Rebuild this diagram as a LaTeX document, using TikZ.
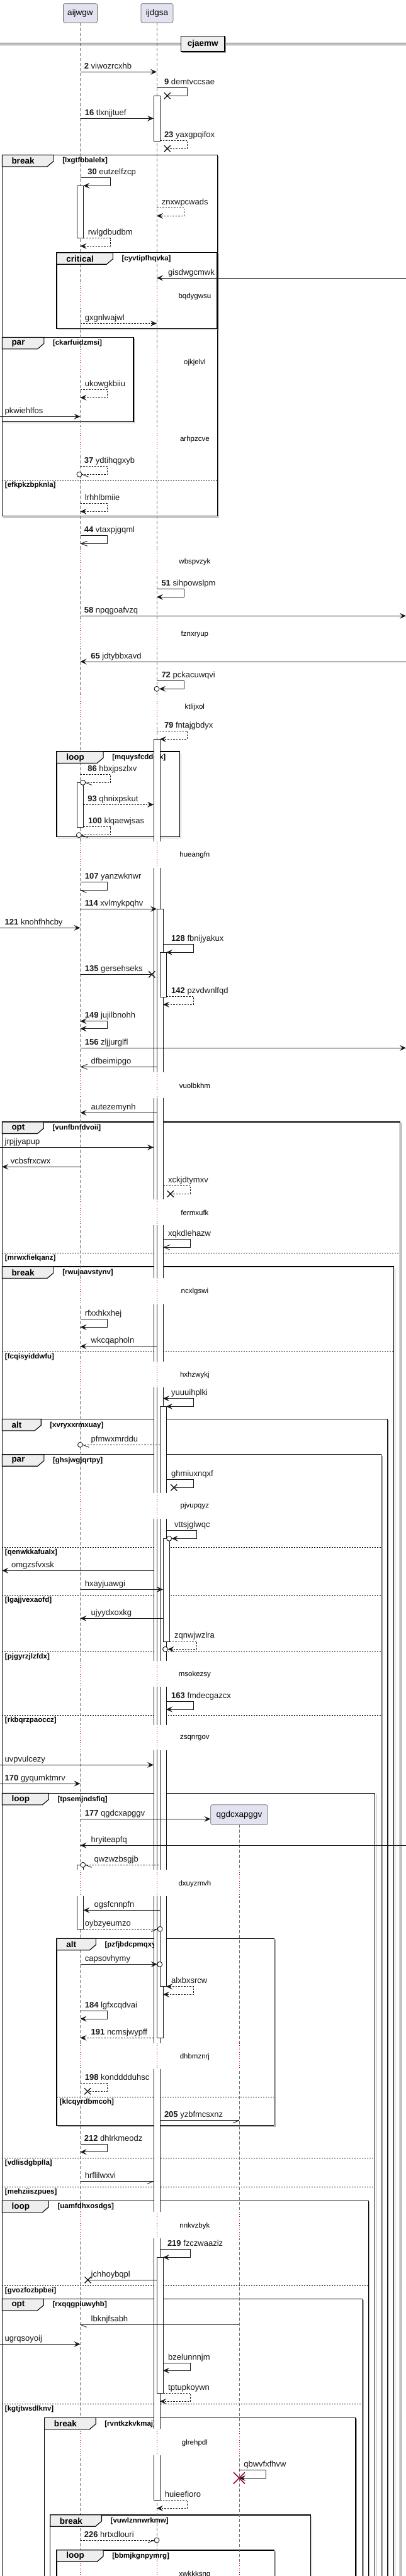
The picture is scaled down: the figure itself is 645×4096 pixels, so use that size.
\documentclass[tikz,border=0pt]{standalone}
\usepackage{fontspec}
\setmainfont{Liberation Sans}
\usetikzlibrary{arrows.meta}
\definecolor{crim}{HTML}{A80036}
\definecolor{ink}{HTML}{181818}
\definecolor{tabfill}{HTML}{EEEEEE}
\definecolor{partfill}{HTML}{E2E2F0}
\tikzset{
 fhead/.tip={Stealth[length=10pt,width=9pt,inset=4pt]},
 ohead/.tip={Straight Barb[length=10pt,width=8pt]},
 msg/.style={draw=ink,line width=0.9pt},
 dsh/.style={dash pattern=on 2.5pt off 2pt},
 life/.style={draw=black!55,line width=0.7pt,dash pattern=on 5pt off 3pt},
 delayline/.style={draw=crim,line width=0.9pt,dash pattern=on 1pt off 2.5pt},
 frameline/.style={draw=black,line width=1.5pt},
 frameshadow/.style={draw=black!35,line width=1pt},
 elseline/.style={draw=black,line width=0.8pt,dash pattern=on 2pt off 2pt},
 act/.style={draw=ink,line width=0.8pt},
 mtxt/.style={anchor=base west,inner sep=0pt,font=\fontsize{13}{15}\selectfont,text=ink},
 dtxt/.style={inner sep=0pt,font=\fontsize{11.5}{13}\selectfont},
 gl/.style={anchor=west,inner sep=0pt,font=\bfseries\fontsize{11.5}{13}\selectfont},
 gk/.style={anchor=west,inner sep=0pt,font=\bfseries\fontsize{13.5}{15}\selectfont},
 part/.style={draw=black!60,fill=partfill,rounded corners=2.5pt,line width=0.7pt,inner sep=0pt,font=\fontsize{13.5}{16}\selectfont},
}
\newcounter{lb}
\newcommand\lbl[3]{\stepcounter{lb}\node[mtxt] (lb\thelb) at (#1,#2-5) {#3};}
\newcommand\selfmsg[6][]{\draw[msg,#1] (#2,#3) -- (#4,#3) -- (#4,#5) -- (#6,#5);}
\newcommand\ecirc[2]{\draw[ink,line width=0.9pt,fill=white] (#1,#2) circle (4pt);}
\newcommand\xmk[2]{\draw[ink,line width=1.4pt] (#1-5,#2-5) -- (#1+5,#2+5) (#1-5,#2+5) -- (#1+5,#2-5);}
\newcommand\hbL[2]{\draw[msg] (#1,#2) -- (#1+10,#2+4);}
\newcommand\hbR[2]{\draw[msg] (#1,#2) -- (#1-10,#2+4);}
\newcommand\actC[4]{\draw[act,fill=white] (#1,#3) rectangle (#2,#4);}
\newcommand\actO[4]{\fill[white] (#1,#3) rectangle (#2,#4); \draw[act] (#1,#3) -- (#1,#4) (#2,#3) -- (#2,#4);}
\newcommand\actT[4]{\fill[white] (#1,#3) rectangle (#2,#4); \draw[act] (#1,#4) -- (#1,#3) -- (#2,#3) -- (#2,#4);}
\newcommand\actB[4]{\fill[white] (#1,#3) rectangle (#2,#4); \draw[act] (#1,#3) -- (#1,#4) -- (#2,#4) -- (#2,#3);}
\newcommand\frm[4]{\draw[frameshadow] (#3+1.8,#2+2) -- (#3+1.8,#4+1.8) -- (#1+2,#4+1.8); \draw[frameline] (#1,#2) rectangle (#3,#4);}
\newcommand\grptab[5]{\draw[draw=black,line width=1.1pt,fill=tabfill] (#1,#2) -- (#1+#3,#2) -- (#1+#3,#2+10) -- (#1+#3-10,#2+18.5) -- (#1,#2+18.5) -- cycle;
 \node[gk] at (#1+15,#2+9.5) {#4}; \node[gl] at (#1+#3+14,#2+9.7) {#5};}
\newcommand\els[4]{\draw[elseline] (#1,#3) -- (#2,#3); \node[gl] at (#1+4.5,#3+8) {#4};}
\newcommand\dly[2]{\foreach \lx in {#1}{\draw[white,line width=2.5pt] (\lx,#2-21) -- (\lx,#2+21); \draw[delayline] (\lx,#2-21) -- (\lx,#2+21);}}
\newcommand\dtext[2]{\node[dtxt] at (309.4,#1) {#2};}

\begin{document}
\begin{tikzpicture}[x=1pt,y=-1pt]
\useasboundingbox (0,0) rectangle (645,4096);
\clip (0,0) rectangle (645,4096);
% ---------- frames ----------
\frm{3.3}{246.3}{345.6}{820.7}
\frm{90.1}{401.7}{345.1}{522.3}
\frm{3.3}{536.3}{211.8}{670.3}
\frm{90.1}{1195}{285.3}{1330.3}
\frm{3.3}{1784}{635.5}{4120}
\frm{3.3}{2014}{625.5}{4120}
\frm{3.3}{2256.3}{615.5}{4120}
\frm{3.3}{2312.7}{605.6}{4120}
\frm{3.3}{2851.3}{595.6}{4120}
\frm{90.1}{3082.3}{435.7}{3379.7}
\frm{3.3}{3499.3}{585.6}{4120}
\frm{3.3}{3655.3}{575.6}{4120}
\frm{70.6}{3844.3}{564.8}{4120}
\frm{79.7}{3998.7}{493.4}{4120}
\frm{90.1}{4054.7}{435.7}{4120}
\els{3.3}{345.6}{763.3}{[efkpkzbpknla]}
\els{3.3}{635.5}{1992.3}{[mrwxfielqanz]}
\els{3.3}{625.5}{2149.3}{[fcqisyiddwfu]}
\els{3.3}{605.6}{2460.3}{[qenwkkafualx]}
\els{3.3}{605.6}{2536.3}{[lgajjvexaofd]}
\els{3.3}{605.6}{2626.3}{[pjgyrzjlzfdx]}
\els{3.3}{605.6}{2727.3}{[rkbqrzpaoccz]}
\els{90.1}{435.7}{3334.3}{[klcqyrdbmcoh]}
\els{3.3}{595.6}{3431.7}{[vdlisdgbplla]}
\els{3.3}{595.6}{3477.3}{[mehziiszpues]}
\els{3.3}{585.6}{3634.3}{[gvozfozbpbei]}
\els{3.3}{575.6}{3822.7}{[kgtjtwsdlknv]}
% ---------- participants and lifelines ----------
\node[part,minimum width=54pt,minimum height=30.3pt] (pA) at (127.5,20.85) {aijwgw};
\node[part,minimum width=51pt,minimum height=30.3pt] (pB) at (249.4,20.85) {ijdgsa};
\coordinate (endA) at (127.5,4100);
\coordinate (endB) at (249,4100);
\coordinate (endC) at (380,4100);
\draw[life] (pA.south) -- (endA);
\draw[life] (249,36) -- (endB);
\draw[life] (380,2901.3) -- (endC);
\dly{127.5,249}{472}
\dly{127.5,249}{576.3}
\dly{127.5,249}{699}
\dly{127.5,249}{894}
\dly{127.5,249}{1009}
\dly{127.5,249}{1125}
\dly{127.5,249}{1358.7}
\dly{127.5,249}{1725.4}
\dly{127.5,249}{1927.5}
\dly{127.5,249}{2053.2}
\dly{127.5,249}{2185.5}
\dly{127.5,249}{2394.2}
\dly{127.5,249}{2661.5}
\dly{127.5,249}{2763}
\dly{127.5,249,380}{2994.3}
\dly{127.5,249,380}{3269.5}
\dly{127.5,249,380}{3538.3}
\dly{127.5,249,380}{3883.2}
\dly{127.5,249,380}{4093.3}
% ---------- group tabs ----------
\grptab{3.3}{246.3}{81.8}{break}{[lxgtfbbalelx]}
\grptab{90.1}{401.7}{89.3}{critical}{[cyvtipfhqvka]}
\grptab{3.3}{536.3}{66.5}{par}{[ckarfuidzmsi]}
\grptab{90.1}{1195}{74}{loop}{[mquysfcddelk]}
\grptab{3.3}{1784}{66.1}{opt}{[vunfbnfdvoii]}
\grptab{3.3}{2014}{81.8}{break}{[rwujaavstynv]}
\grptab{3.3}{2256.3}{61.9}{alt}{[xvryxxrmxuay]}
\grptab{3.3}{2312.7}{66.5}{par}{[ghsjwgjqrtpy]}
\grptab{3.3}{2851.3}{74}{loop}{[tpsemjndsfiq]}
\grptab{90.1}{3082.3}{62.3}{alt}{[pzfjbdcpmqxy]}
\grptab{3.3}{3499.3}{74}{loop}{[uamfdhxosdgs]}
\grptab{3.3}{3655.3}{66.1}{opt}{[rxqqgpiuwyhb]}
\grptab{70.6}{3844.3}{81.6}{break}{[rvntkzkvkmaj]}
\grptab{79.7}{3998.7}{81.8}{break}{[vuwlznnwrkmw]}
\grptab{90.1}{4054.7}{74}{loop}{[bbmjkgnpymrg]}
% ---------- divider ----------
\draw[ink,line width=0.9pt] (0,68.6) -- (645,68.6) (0,71.6) -- (645,71.6);
\fill[black!35] (289.4,59.3) rectangle (359.2,84);
\node[draw=black,line width=1.5pt,fill=tabfill,minimum width=69.8pt,minimum height=24.7pt,inner sep=0pt,font=\bfseries\fontsize{13.5}{15}\selectfont] (div) at (322.3,69.65) {cjaemw};
% ---------- activations ----------
\actC{244}{254}{152.3}{224.3}
\actC{122.5}{132.5}{295.3}{378.7}
\actC{122.5}{132.5}{1244.3}{1315.3}
\actT{244}{254}{1175.3}{1337.7}
\actO{244}{254}{1379.7}{1704.7}
\actO{244}{254}{1746}{1906.7}
\actO{244}{254}{1948.3}{2032.3}
\actO{244}{254}{2074}{2164.7}
\actO{244}{254}{2206.3}{2373.7}
\actO{244}{254}{2414.7}{2640.7}
\actO{244}{254}{2682.3}{2742.7}
\actO{244}{254}{2783.3}{2973.3}
\actO{244}{254}{3015.3}{3248.7}
\actO{244}{254}{3290.3}{3517.3}
\actO{244}{254}{3559.3}{3862}
\actB{244}{254}{3904.3}{3975.3}
\actT{249}{259}{1445.3}{1704.7}
\actO{249}{259}{1746}{1906.7}
\actO{249}{259}{1948.3}{2032.3}
\actO{249}{259}{2074}{2164.7}
\actO{249}{259}{2206.3}{2373.7}
\actO{249}{259}{2414.7}{2640.7}
\actO{249}{259}{2682.3}{2742.7}
\actO{249}{259}{2783.3}{2973.3}
\actB{249}{259}{3015.3}{3240.3}
\actC{249}{259}{3589.3}{3805.3}
\actC{254}{264}{1514.7}{1585.3}
\actT{254}{264}{2236.3}{2373.7}
\actO{254}{264}{2414.7}{2640.7}
\actO{254}{264}{2682.3}{2742.7}
\actO{254}{264}{2783.3}{2973.3}
\actB{254}{264}{3015.3}{3158.7}
\actC{259}{269}{2446.3}{2610.3}
\actT{122.5}{132.5}{2965.3}{2973.3}
\actB{122.5}{132.5}{3015.3}{3067.3}
% ---------- messages ----------
\draw[msg,-{fhead}] (127.5,114.3) -- (249,114.3); \lbl{133.7}{114.3}{\textbf{2} viwozrcxhb}
\selfmsg{249}{139.3}{297.4}{152.3}{268}; \xmk{265.8}{152.3} \lbl{260.8}{139.3}{\textbf{9} demtvccsae}
\draw[msg,-{fhead}] (127.5,188.3) -- (244,188.3); \lbl{134.6}{188.3}{\textbf{16} tlxnjjtuef}
\selfmsg[dsh]{254}{223.3}{297.4}{236.3}{268}; \xmk{265.8}{236.3} \lbl{260.8}{223.3}{\textbf{23} yaxgpqifox}
\selfmsg[-{fhead}]{127.5}{282.3}{175.3}{295.3}{132.5}; \lbl{139.1}{282.3}{\textbf{30} eutzelfzcp}
\selfmsg[dsh,-{fhead}]{249}{330.3}{292.4}{343.3}{249}; \lbl{256.7}{330.3}{znxwpcwads}
\selfmsg[dsh,-{fhead}]{132.5}{378.7}{175.3}{391.3}{127.5}; \lbl{139.6}{378.7}{rwlgdbudbm}
\draw[msg,-{fhead}] (645,442) -- (249,442); \lbl{267}{442}{gisdwgcmwk}
\draw[msg,dsh,-{fhead}] (127.5,514.3) -- (249,514.3); \lbl{134.6}{514.3}{gxgnlwajwl}
\selfmsg[dsh,-{fhead}]{127.5}{619.3}{170.3}{632.3}{127.5}; \lbl{134.6}{619.3}{ukowgkbiiu}
\draw[msg,-{fhead}] (0,662.3) -- (127.5,662.3); \lbl{7.5}{662.3}{pkwiehlfos}
\selfmsg[dsh]{127.5}{741.3}{170.3}{754.3}{130}; \ecirc{126}{754.3} \hbL{130.5}{754.3} \lbl{133.7}{741.3}{\textbf{37} ydtihqgxyb}
\selfmsg[dsh,-{fhead}]{127.5}{800.3}{170.3}{813.3}{127.5}; \lbl{134.6}{800.3}{lrhhlbmiie}
\selfmsg[-{ohead}]{127.5}{851.7}{170.3}{864.3}{127.5}; \lbl{133.7}{851.7}{\textbf{44} vtaxpjgqml}
\selfmsg[-{fhead}]{249}{936.3}{292.4}{949.3}{249}; \lbl{256.3}{936.3}{\textbf{51} sihpowslpm}
\draw[msg,-{fhead}] (127.5,979.3) -- (645,979.3); \lbl{133.7}{979.3}{\textbf{58} npqgoafvzq}
\draw[msg,-{fhead}] (645,1052) -- (127.5,1052); \lbl{144.1}{1052}{\textbf{65} jdtybbxavd}
\selfmsg[-{fhead}]{249}{1082.7}{292.4}{1095.3}{253}; \ecirc{249}{1095.3} \lbl{256.3}{1082.7}{\textbf{72} pckacuwqvi}
\selfmsg[dsh,-{fhead}]{249}{1162.3}{297.4}{1175.3}{254}; \lbl{260.8}{1162.3}{\textbf{79} fntajgbdyx}
\selfmsg[dsh]{127.5}{1231.3}{175.3}{1244.3}{135.7}; \ecirc{131.7}{1244.3} \hbL{135.7}{1244.3} \lbl{139.1}{1231.3}{\textbf{86} hbxjpszlxv}
\draw[msg,dsh,-{fhead}] (132.5,1279.3) -- (244,1279.3); \lbl{139.1}{1279.3}{\textbf{93} qhnixpskut}
\selfmsg[dsh]{132.5}{1314.7}{175.3}{1327.7}{129.4}; \ecirc{125.4}{1327.7} \hbL{129.4}{1327.7} \lbl{140}{1314.7}{\textbf{100} klqaewjsas}
\selfmsg{127.5}{1402.3}{170.3}{1415.3}{127.5}; \hbL{127.5}{1415.3} \lbl{134.6}{1402.3}{\textbf{107} yanzwknwr}
\draw[msg,-{fhead}] (127.5,1445.3) -- (249,1445.3); \lbl{134.6}{1445.3}{\textbf{114} xvlmykpqhv}
\draw[msg,-{fhead}] (0,1475.3) -- (127.5,1475.3); \lbl{7.5}{1475.3}{\textbf{121} knohfhhcby}
\selfmsg[-{fhead}]{259}{1501.7}{307.3}{1514.3}{264}; \lbl{272}{1501.7}{\textbf{128} fbnijyakux}
\draw[msg] (127.5,1549.3) -- (241.3,1549.3); \xmk{241.3}{1549.3} \lbl{134.6}{1549.3}{\textbf{135} gersehseks}
\selfmsg[dsh,-{fhead}]{264}{1584.7}{307.3}{1597.3}{259}; \lbl{272}{1584.7}{\textbf{142} pzvdwnlfqd}
\selfmsg[{fhead}-{fhead}]{127.5}{1623.7}{170.3}{1635.7}{127.5}; \lbl{134.6}{1623.7}{\textbf{149} jujilbnohh}
\draw[msg,-{fhead}] (127.5,1666.3) -- (645,1666.3); \lbl{134.6}{1666.3}{\textbf{156} zljjurglfl}
\draw[msg,-{ohead}] (249,1696.3) -- (127.5,1696.3); \lbl{144.5}{1696.3}{dfbeimipgo}
\draw[msg,-{fhead}] (249,1769.3) -- (127.5,1769.3); \lbl{144.5}{1769.3}{autezemynh}
\draw[msg,-{fhead}] (0,1824.3) -- (244,1824.3); \lbl{7.5}{1824.3}{jrpjjyapup}
\draw[msg,-{fhead}] (127.5,1855.3) -- (3.3,1855.3); \lbl{16.6}{1855.3}{vcbsfrxcwx}
\selfmsg[dsh]{259}{1885.3}{302.4}{1898.3}{273}; \xmk{270.8}{1898.3} \lbl{267}{1885.3}{xckjdtymxv}
\selfmsg[-{ohead}]{259}{1970.3}{302.4}{1983.3}{259}; \lbl{267}{1970.3}{xqkdlehazw}
\selfmsg[-{fhead}]{127.5}{2097.7}{170.3}{2110.3}{127.5}; \lbl{134.6}{2097.7}{rfxxhkxhej}
\draw[msg,-{fhead}] (249,2140.7) -- (127.5,2140.7); \lbl{144.5}{2140.7}{wkcqapholn}
\selfmsg[{fhead}-{fhead}]{259}{2223.7}{307.3}{2236.3}{264}; \lbl{272}{2223.7}{yuuuihplki}
\draw[msg,dsh] (254,2297.3) -- (131.5,2297.3); \ecirc{127.5}{2297.3} \hbL{131.5}{2297.3} \lbl{144.5}{2297.3}{pfmwxmrddu}
\selfmsg{264}{2352.3}{307.3}{2365.3}{278}; \xmk{276.2}{2365.3} \lbl{272}{2352.3}{ghmiuxnqxf}
\selfmsg[-{fhead}]{264}{2433.7}{312.3}{2446.3}{272.7}; \ecirc{268.7}{2446.3} \lbl{277}{2433.7}{vttsjglwqc}
\draw[msg,-{fhead}] (244,2497.3) -- (3.3,2497.3); \lbl{17.9}{2497.3}{omgzsfvxsk}
\draw[msg,-{fhead}] (127.5,2527.3) -- (259,2527.3); \lbl{134.6}{2527.3}{hxayjuawgi}
\draw[msg,-{fhead}] (259,2573.3) -- (127.5,2573.3); \lbl{144.5}{2573.3}{ujyydxoxkg}
\selfmsg[dsh,-{fhead}]{269}{2609.7}{312.3}{2622.3}{266.5}; \ecirc{262.5}{2622.3} \lbl{277}{2609.7}{zqnwjwzlra}
\selfmsg[-{fhead}]{264}{2705.3}{307.3}{2718}{264}; \lbl{272}{2705.3}{\textbf{163} fmdecgazcx}
\draw[msg,-{fhead}] (0,2806.3) -- (244,2806.3); \lbl{7.5}{2806.3}{uvpvulcezy}
\draw[msg,-{fhead}] (0,2836) -- (127.5,2836); \lbl{7.5}{2836}{\textbf{170} gyqumktmrv}
\node[part,minimum width=90.5pt,minimum height=31.6pt] (pC) at (380,2885.5) {qgdcxapggv};
\draw[msg,-{fhead}] (127.5,2892.3) -- (pC.west |- 0,2892.3); \lbl{134.6}{2892.3}{\textbf{177} qgdcxapggv}
\draw[msg,-{fhead}] (645,2934.3) -- (127.5,2934.3); \lbl{144.5}{2934.3}{hryiteapfq}
\draw[msg,dsh] (252,2965.3) -- (135.7,2965.3); \ecirc{131.7}{2965.3} \hbL{135.7}{2965.3} \lbl{149.5}{2965.3}{qwzwzbsgjb}
\draw[msg,-{fhead}] (254,3037.3) -- (132.5,3037.3); \lbl{149.5}{3037.3}{ogsfcnnpfn}
\draw[msg,dsh] (132.5,3067.3) -- (250.2,3067.3); \ecirc{254.2}{3067.3} \hbR{250.2}{3067.3} \lbl{134.6}{3067.3}{oybzyeumzo}
\draw[msg,-{fhead}] (127.5,3123.3) -- (249.8,3123.3); \ecirc{253.8}{3123.3} \lbl{134.6}{3123.3}{capsovhymy}
\selfmsg[dsh,{fhead}-{fhead}]{264}{3158.7}{307.3}{3171.3}{259}; \lbl{272}{3158.7}{alxbxsrcw}
\selfmsg[-{fhead}]{127.5}{3197}{170.3}{3210}{127.5}; \lbl{134.6}{3197}{\textbf{184} lgfxcqdvai}
\draw[msg,dsh,-{fhead}] (244,3240.3) -- (127.5,3240.3); \lbl{144.5}{3240.3}{\textbf{191} ncmsjwypff}
\selfmsg[dsh]{127.5}{3312.7}{170.3}{3325.3}{141}; \xmk{139.1}{3325.3} \lbl{134.6}{3312.7}{\textbf{198} kondddduhsc}
\draw[msg] (254,3371.7) -- (380,3371.7); \hbR{380}{3371.7} \lbl{260.8}{3371.7}{\textbf{205} yzbfmcsxnz}
\selfmsg[-{fhead}]{127.5}{3409.7}{170.3}{3421.7}{127.5}; \lbl{133.7}{3409.7}{\textbf{212} dhlrkmeodz}
\draw[msg] (127.5,3468.3) -- (244,3468.3); \hbR{244}{3468.3} \lbl{134.6}{3468.3}{hrflilwxvi}
\selfmsg[-{fhead}]{254}{3576.3}{302.4}{3589.3}{259}; \lbl{265.8}{3576.3}{\textbf{219} fzczwaaziz}
\draw[msg] (249,3625.3) -- (139.6,3625.3); \xmk{139.6}{3625.3} \lbl{144.5}{3625.3}{jchhoybqpl}
\draw[msg] (380,3696.3) -- (127.5,3696.3); \hbL{127.5}{3696.3} \lbl{144.5}{3696.3}{lbknjfsabh}
\draw[msg,-{fhead}] (0,3727.3) -- (127.5,3727.3); \lbl{7.5}{3727.3}{ugrqsoyoij}
\selfmsg[-{fhead}]{259}{3757.7}{302.4}{3769.3}{259}; \lbl{267}{3757.7}{bzelunnnjm}
\selfmsg[dsh,-{fhead}]{259}{3805.3}{302.4}{3818.3}{254}; \lbl{267}{3805.3}{tptupkoywn}
\selfmsg[-{fhead}]{380}{3927.3}{422.4}{3940.3}{380}; \lbl{387.1}{3927.3}{qbwvfxfhvw}
\draw[crim,line width=1.6pt] (371,3931.3) -- (389,3949.3) (371,3949.3) -- (389,3931.3);
\selfmsg[dsh,-{fhead}]{254}{3975.3}{297.4}{3988.3}{249}; \lbl{261.7}{3975.3}{huieefioro}
\draw[msg,dsh] (127.5,4039) -- (245,4039); \ecirc{249}{4039} \hbR{245}{4039} \lbl{133.7}{4039}{\textbf{226} hrtxdlouri}
% ---------- delay texts ----------
\dtext{472}{bqdygwsu}
\dtext{576.3}{ojkjelvl}
\dtext{699}{arhpzcve}
\dtext{894}{wbspvzyk}
\dtext{1009}{fznxryup}
\dtext{1125}{ktlijxol}
\dtext{1359.3}{hueangfn}
\dtext{1726}{vuolbkhm}
\dtext{1928.3}{fermxufk}
\dtext{2053.5}{ncxlgswi}
\dtext{2186}{hxhzwykj}
\dtext{2394.5}{pjvupqyz}
\dtext{2662.3}{msokezsy}
\dtext{2763.3}{zsqnrgov}
\dtext{2995}{dxuyzmvh}
\dtext{3270.3}{dhbmznrj}
\dtext{3539.3}{nnkvzbyk}
\dtext{3884.3}{glrehpdl}
\dtext{4093.5}{xwkkksng}
\end{tikzpicture}
\end{document}
